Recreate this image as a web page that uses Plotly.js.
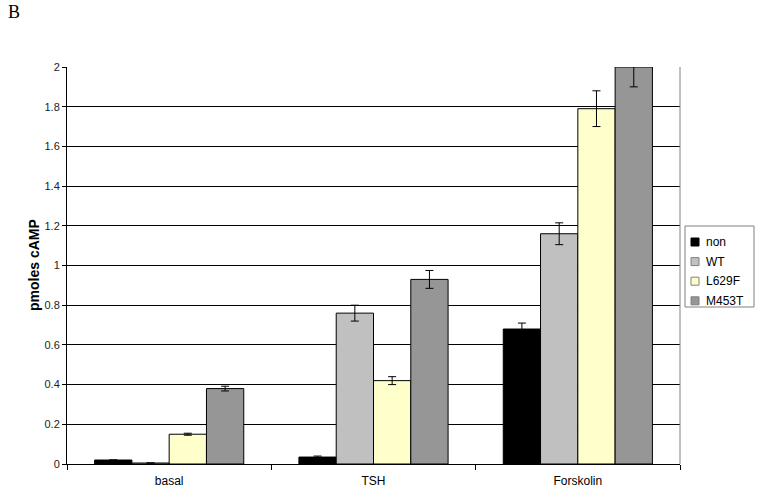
<!DOCTYPE html>
<html>
<head>
<meta charset="utf-8">
<script src="https://cdn.plot.ly/plotly-3.0.1.min.js"></script>
<style>html,body{margin:0;padding:0;background:#fff;}#chart{width:758px;height:496px;}</style>
</head>
<body>
<div id="chart"></div>
<script>
const categories = ["basal", "TSH", "Forskolin"];
const seriesNames = ["non", "WT", "L629F", "M453T"];
const nonVals = [0.02, 0.035, 0.68];
const nonErr = [0.0, 0.005, 0.03];
const wtVals = [0.005, 0.76, 1.16];
const wtErr = [0.0, 0.04, 0.055];
const l629fVals = [0.15, 0.42, 1.79];
const l629fErr = [0.005, 0.02, 0.09];
const m453tVals = [0.38, 0.93, 2.0];
const m453tErr = [0.012, 0.045, 0.1];
const yTickVals = [0, 0.2, 0.4, 0.6, 0.8, 1, 1.2, 1.4, 1.6, 1.8, 2];
const yTickText = ["0", "0.2", "0.4", "0.6", "0.8", "1", "1.2", "1.4", "1.6", "1.8", "2"];

const colors = ["#000000", "#c0c0c0", "#ffffcc", "#969696"];
const vals = [nonVals, wtVals, l629fVals, m453tVals];
const errs = [nonErr, wtErr, l629fErr, m453tErr];

const traces = seriesNames.map((n, i) => ({
  type: "bar",
  name: n,
  x: categories,
  y: vals[i],
  showlegend: false,
  marker: {color: colors[i], line: {color: "#000000", width: 1}},
  error_y: {type: "data", array: errs[i], visible: true, color: "#000000", thickness: 1, width: 4},
  cliponaxis: true
}));

// plot area in pixels: x 67..680, y 67..464
const px = v => (v - 67) / 613;
const py = v => (464 - v) / 397;

const shapes = [
  {type: "line", xref: "paper", yref: "paper", x0: 1, x1: 1, y0: 0, y1: 1, line: {color: "#808080", width: 1}},
  {type: "rect", xref: "paper", yref: "paper", x0: px(685), x1: px(754), y0: py(307), y1: py(226),
   line: {color: "#808080", width: 1}, fillcolor: "#ffffff"}
];
const annotations = [
  {text: "B", xref: "paper", yref: "paper", x: px(6), y: py(12), xanchor: "left", yanchor: "middle",
   showarrow: false, font: {family: "Liberation Serif, Times New Roman, serif", size: 18}},
  {text: "<b>pmoles cAMP</b>", xref: "paper", yref: "paper", x: px(34), y: py(265), textangle: -90,
   xanchor: "center", yanchor: "middle", showarrow: false, font: {size: 14}}
];
seriesNames.forEach((n, i) => {
  const cy = 242 + i * 19.6;
  shapes.push({type: "rect", xref: "paper", yref: "paper", x0: px(691), x1: px(699), y0: py(cy + 4), y1: py(cy - 4),
    fillcolor: colors[i], line: {color: i === 0 ? "#000000" : "#808080", width: 1}});
  annotations.push({text: n, xref: "paper", yref: "paper", x: px(704), y: py(cy), xanchor: "left", yanchor: "middle",
    showarrow: false, font: {size: 12}});
});

const layout = {
  width: 758, height: 496,
  margin: {l: 67, r: 78, t: 67, b: 32, autoexpand: false},
  paper_bgcolor: "#ffffff",
  plot_bgcolor: "#ffffff",
  barmode: "group",
  bargap: 0.27,
  bargroupgap: 0,
  showlegend: false,
  font: {family: "Arial, Liberation Sans, sans-serif", color: "#000000"},
  xaxis: {
    type: "category",
    showline: true, linecolor: "#000000", linewidth: 1,
    ticks: "outside", tickson: "boundaries", ticklen: 5, tickcolor: "#000000",
    tickfont: {size: 12},
    ticklabelstandoff: 6,
    showgrid: false, mirror: false
  },
  yaxis: {
    range: [0, 2],
    tickvals: yTickVals, ticktext: yTickText,
    showline: true, linecolor: "#000000", linewidth: 1,
    ticks: "outside", ticklen: 4, tickcolor: "#000000",
    tickfont: {size: 11, color: "#222222"},
    showgrid: true, gridcolor: "#000000", gridwidth: 1,
    zeroline: false
  },
  shapes: shapes,
  annotations: annotations
};

Plotly.newPlot("chart", traces, layout, {displayModeBar: false, staticPlot: true});
</script>
</body>
</html>
